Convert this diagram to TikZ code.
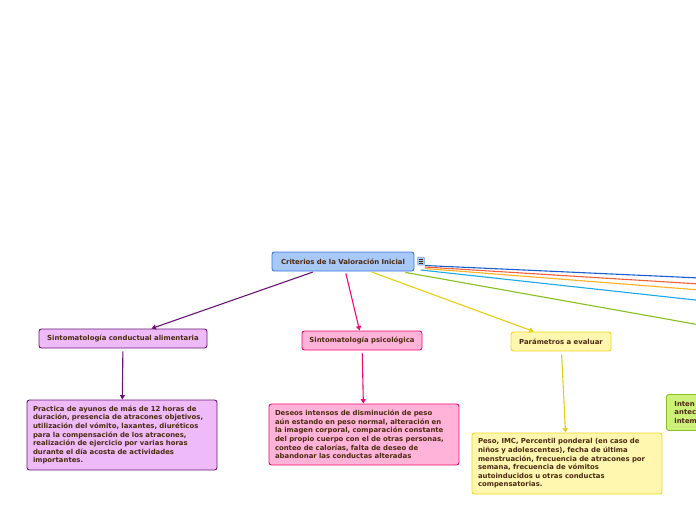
\documentclass[tikz,border=0pt]{standalone}
\usepackage{fontspec}
\setmainfont{DejaVu Sans}
\usetikzlibrary{arrows.meta,calc}
\definecolor{txt}{HTML}{4A2A10}
\definecolor{rootfill}{HTML}{A8C8F8}
\definecolor{rootdraw}{HTML}{3A78E0}
\definecolor{vfill}{HTML}{EEBBF8}
\definecolor{vdraw}{HTML}{6A1478}
\definecolor{pfill}{HTML}{FFB3D8}
\definecolor{pdraw}{HTML}{EE0A70}
\definecolor{yfill}{HTML}{FFF6B0}
\definecolor{ydraw}{HTML}{EED820}
\definecolor{yline}{HTML}{E6CF10}
\definecolor{gfill}{HTML}{CCF07A}
\definecolor{gdraw}{HTML}{88C020}
\definecolor{lblue}{HTML}{1A5FD0}
\definecolor{lred}{HTML}{F0603A}
\definecolor{lorange}{HTML}{FFB020}
\definecolor{lcyan}{HTML}{1AA8E8}
\definecolor{lgreen}{HTML}{88C020}
\tikzset{
  box/.style={rounded corners=2.5pt, line width=0.9pt, text=txt,
    font=\fontsize{6.9}{8.6}\selectfont\bfseries, inner sep=0pt},
  head/.style={box, align=center},
  body/.style={box, align=left, text width=178pt},
  conn/.style={line width=1.1pt, shorten <=2pt,
    -{Triangle[length=4.5pt,width=5pt]}},
  side/.style={line width=1.1pt}
}
\begin{document}
\begin{tikzpicture}[x=1pt,y=-1pt]
\useasboundingbox (0,0) rectangle (696,520);
\clip (0,0) rectangle (696,520);
\fill[white] (0,0) rectangle (696,520);

\node[box, fill=rootfill, draw=rootdraw, minimum width=142pt, minimum height=19pt] (root) at (343,261.5) {Criterios de la Valoración Inicial};
\node[draw=rootdraw!70, fill=rootfill, rounded corners=1pt, line width=0.5pt, minimum width=7pt, minimum height=8pt, inner sep=0pt] (note) at (421,261) {};
\draw[txt, line width=0.5pt] ($(note.center)+(-2,-1.8)$) -- ++(4,0)
  ($(note.center)+(-2,0)$) -- ++(4,0) ($(note.center)+(-2,1.8)$) -- ++(4,0);

\coordinate (eblue) at (700,278);
\coordinate (ered) at (700,284);
\coordinate (eorange) at (700,290);
\coordinate (ecyan) at (700,300.5);
\coordinate (egreen) at (700,325);
\draw[side, lblue] ($(note.east)+(0,4.5)$) -- (eblue);
\draw[side, lred] ($(note.east)+(0,6)$) -- (ered);
\draw[side, lorange] ($(note.east)+(0,7.5)$) -- (eorange);
\draw[side, lcyan] ($(note.east)+(-4,9)$) -- (ecyan);
\draw[side, lgreen] ($(root.south east)+(-9,1)$) -- (egreen);

\node[head, fill=vfill, draw=vdraw, minimum width=168pt, minimum height=19pt] (cs) at (123,338.5) {Sintomatología conductual alimentaria};
\node[head, fill=pfill, draw=pdraw, minimum width=120pt, minimum height=19pt] (ps) at (362,340.5) {Sintomatología psicológica};
\node[head, fill=yfill, draw=ydraw, minimum width=100pt, minimum height=19pt] (pa) at (561,341.5) {Parámetros a evaluar};

\node[body, fill=vfill, draw=vdraw, minimum width=190pt, minimum height=70pt] (csb) at (122,435)
 {Practica de ayunos de más de 12 horas de\\duración, presencia de atracones objetivos,\\utilización del vómito, laxantes, diuréticos\\para la compensación de los atracones,\\realización de ejercicio por varias horas\\durante el día acosta de actividades\\importantes.};
\node[body, fill=pfill, draw=pdraw, minimum width=190pt, minimum height=61pt] (psb) at (364,434.5)
 {Deseos intensos de disminución de peso\\aún estando en peso normal, alteración en\\la imagen corporal, comparación constante\\del propio cuerpo con el de otras personas,\\conteo de calorías, falta de deseo de\\abandonar las conductas alteradas};
\node[body, fill=yfill, draw=ydraw, minimum width=190pt, minimum height=61pt] (pab) at (567,463.5)
 {Peso, IMC, Percentil ponderal (en caso de\\niños y adolescentes), fecha de última\\menstruación, frecuencia de atracones por\\semana, frecuencia de vómitos\\autoinducidos u otras conductas\\compensatorias.};
\node[box, fill=gfill, draw=gdraw, anchor=north west, align=left, text width=60pt, minimum width=70pt, minimum height=36pt, inner xsep=8pt] (gb) at (666,394)
 {Inten\\antec\\intem};

\draw[conn, vdraw] (root) -- (cs);
\draw[conn, pdraw] (root) -- (ps);
\draw[conn, yline] (root) -- (pa);
\draw[conn, vdraw, shorten <=3pt] (cs) -- (csb);
\draw[conn, pdraw, shorten <=3pt] (ps) -- (psb);
\draw[conn, yline, shorten <=3pt] (pa) -- (pab);
\end{tikzpicture}
\end{document}
